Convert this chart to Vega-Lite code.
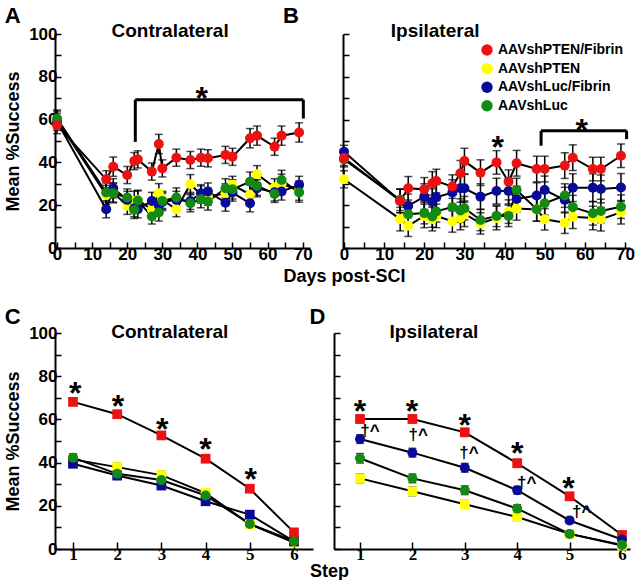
{
"$schema": "https://vega.github.io/schema/vega-lite/v6.json",
"padding": {"left": 4, "top": 4, "right": 5, "bottom": 5},
"config": {
 "view": {"stroke": null},
 "font": "Liberation Sans",
 "axis": {"domainColor": "black", "domainWidth": 2, "tickColor": "black", "tickWidth": 1.5, "tickSize": -6, "labelFont": "Liberation Sans", "labelFontWeight": "bold", "labelFontSize": 17, "labelColor": "black", "titleFont": "Liberation Sans", "titleFontWeight": "bold", "titleFontSize": 18, "titleColor": "black", "grid": false, "labelFlush": false, "labelOverlap": false, "labelPadding": 4},
 "title": {"font": "Liberation Sans", "fontSize": 22, "fontWeight": "bold", "color": "black", "anchor": "start", "frame": "bounds", "offset": -6}
},
"datasets": {
 "series": [
  {"p":"A","g":"AAVshPTEN","x":0,"y":60,"e":4},{"p":"A","g":"AAVshPTEN","x":14,"y":24.8,"e":4.5},{"p":"A","g":"AAVshPTEN","x":16,"y":26,"e":4.5},{"p":"A","g":"AAVshPTEN","x":20,"y":19.7,"e":4},{"p":"A","g":"AAVshPTEN","x":22,"y":22,"e":4.5},{"p":"A","g":"AAVshPTEN","x":23,"y":22.5,"e":4.5},{"p":"A","g":"AAVshPTEN","x":27,"y":18,"e":4},{"p":"A","g":"AAVshPTEN","x":29,"y":25.6,"e":4.5},{"p":"A","g":"AAVshPTEN","x":30,"y":22.5,"e":4},{"p":"A","g":"AAVshPTEN","x":34,"y":18.1,"e":3.5},{"p":"A","g":"AAVshPTEN","x":38,"y":29.8,"e":4.5},{"p":"A","g":"AAVshPTEN","x":41,"y":25,"e":4},{"p":"A","g":"AAVshPTEN","x":43,"y":24,"e":4},{"p":"A","g":"AAVshPTEN","x":48,"y":25.5,"e":4.5},{"p":"A","g":"AAVshPTEN","x":50,"y":29.5,"e":4},{"p":"A","g":"AAVshPTEN","x":55,"y":25,"e":4.5},{"p":"A","g":"AAVshPTEN","x":57,"y":34.5,"e":4},{"p":"A","g":"AAVshPTEN","x":62,"y":28.4,"e":4},{"p":"A","g":"AAVshPTEN","x":64,"y":30,"e":4.5},{"p":"A","g":"AAVshPTEN","x":69,"y":26.8,"e":4.5},
  {"p":"A","g":"AAVshLuc/Fibrin","x":0,"y":59,"e":4},{"p":"A","g":"AAVshLuc/Fibrin","x":14,"y":18.1,"e":4},{"p":"A","g":"AAVshLuc/Fibrin","x":16,"y":27.9,"e":4.5},{"p":"A","g":"AAVshLuc/Fibrin","x":20,"y":22.5,"e":4},{"p":"A","g":"AAVshLuc/Fibrin","x":22,"y":18.6,"e":4},{"p":"A","g":"AAVshLuc/Fibrin","x":23,"y":18.1,"e":4},{"p":"A","g":"AAVshLuc/Fibrin","x":27,"y":22,"e":4},{"p":"A","g":"AAVshLuc/Fibrin","x":29,"y":20,"e":4},{"p":"A","g":"AAVshLuc/Fibrin","x":30,"y":21.5,"e":4},{"p":"A","g":"AAVshLuc/Fibrin","x":34,"y":22.5,"e":4},{"p":"A","g":"AAVshLuc/Fibrin","x":38,"y":22,"e":4},{"p":"A","g":"AAVshLuc/Fibrin","x":41,"y":25.6,"e":4},{"p":"A","g":"AAVshLuc/Fibrin","x":43,"y":26.4,"e":4},{"p":"A","g":"AAVshLuc/Fibrin","x":48,"y":21.2,"e":4},{"p":"A","g":"AAVshLuc/Fibrin","x":50,"y":25.9,"e":4},{"p":"A","g":"AAVshLuc/Fibrin","x":55,"y":20.9,"e":4},{"p":"A","g":"AAVshLuc/Fibrin","x":57,"y":27.9,"e":4},{"p":"A","g":"AAVshLuc/Fibrin","x":62,"y":26,"e":4},{"p":"A","g":"AAVshLuc/Fibrin","x":64,"y":26.4,"e":4},{"p":"A","g":"AAVshLuc/Fibrin","x":69,"y":29.5,"e":4},
  {"p":"A","g":"AAVshLuc","x":0,"y":60.5,"e":4},{"p":"A","g":"AAVshLuc","x":14,"y":25.9,"e":4.5},{"p":"A","g":"AAVshLuc","x":16,"y":25.6,"e":4.5},{"p":"A","g":"AAVshLuc","x":20,"y":23.6,"e":4},{"p":"A","g":"AAVshLuc","x":22,"y":17.8,"e":4},{"p":"A","g":"AAVshLuc","x":23,"y":22.2,"e":4.5},{"p":"A","g":"AAVshLuc","x":27,"y":14.7,"e":3.5},{"p":"A","g":"AAVshLuc","x":29,"y":16.6,"e":4},{"p":"A","g":"AAVshLuc","x":30,"y":22,"e":4},{"p":"A","g":"AAVshLuc","x":34,"y":23.6,"e":4.5},{"p":"A","g":"AAVshLuc","x":38,"y":20.9,"e":4},{"p":"A","g":"AAVshLuc","x":41,"y":22.8,"e":4},{"p":"A","g":"AAVshLuc","x":43,"y":21.7,"e":4},{"p":"A","g":"AAVshLuc","x":48,"y":27.9,"e":4.5},{"p":"A","g":"AAVshLuc","x":50,"y":27.4,"e":4.5},{"p":"A","g":"AAVshLuc","x":55,"y":31,"e":4.5},{"p":"A","g":"AAVshLuc","x":57,"y":29.1,"e":4.5},{"p":"A","g":"AAVshLuc","x":62,"y":25.3,"e":4},{"p":"A","g":"AAVshLuc","x":64,"y":31.8,"e":4.5},{"p":"A","g":"AAVshLuc","x":69,"y":25.9,"e":4.5},
  {"p":"A","g":"AAVshPTEN/Fibrin","x":0,"y":57.4,"e":4},{"p":"A","g":"AAVshPTEN/Fibrin","x":14,"y":32.1,"e":4},{"p":"A","g":"AAVshPTEN/Fibrin","x":16,"y":38,"e":4.5},{"p":"A","g":"AAVshPTEN/Fibrin","x":20,"y":34.1,"e":4},{"p":"A","g":"AAVshPTEN/Fibrin","x":22,"y":40.6,"e":4},{"p":"A","g":"AAVshPTEN/Fibrin","x":23,"y":41.4,"e":4},{"p":"A","g":"AAVshPTEN/Fibrin","x":27,"y":35.7,"e":4},{"p":"A","g":"AAVshPTEN/Fibrin","x":29,"y":48.6,"e":4.5},{"p":"A","g":"AAVshPTEN/Fibrin","x":30,"y":37.2,"e":4},{"p":"A","g":"AAVshPTEN/Fibrin","x":34,"y":42.2,"e":4},{"p":"A","g":"AAVshPTEN/Fibrin","x":38,"y":41.1,"e":4},{"p":"A","g":"AAVshPTEN/Fibrin","x":41,"y":42.2,"e":4},{"p":"A","g":"AAVshPTEN/Fibrin","x":43,"y":41.9,"e":4},{"p":"A","g":"AAVshPTEN/Fibrin","x":48,"y":43.5,"e":4},{"p":"A","g":"AAVshPTEN/Fibrin","x":50,"y":42.6,"e":4},{"p":"A","g":"AAVshPTEN/Fibrin","x":55,"y":51.3,"e":4.5},{"p":"A","g":"AAVshPTEN/Fibrin","x":57,"y":52.5,"e":4.5},{"p":"A","g":"AAVshPTEN/Fibrin","x":62,"y":47.3,"e":4},{"p":"A","g":"AAVshPTEN/Fibrin","x":64,"y":52.5,"e":4.5},{"p":"A","g":"AAVshPTEN/Fibrin","x":69,"y":54,"e":4.5},
  {"p":"B","g":"AAVshPTEN","x":0,"y":32.1,"e":4},{"p":"B","g":"AAVshPTEN","x":14,"y":13.5,"e":5.5},{"p":"B","g":"AAVshPTEN","x":16,"y":10.4,"e":5},{"p":"B","g":"AAVshPTEN","x":20,"y":15,"e":5.5},{"p":"B","g":"AAVshPTEN","x":22,"y":13.5,"e":5.5},{"p":"B","g":"AAVshPTEN","x":23,"y":15,"e":5.5},{"p":"B","g":"AAVshPTEN","x":27,"y":12.4,"e":5},{"p":"B","g":"AAVshPTEN","x":29,"y":14,"e":5.5},{"p":"B","g":"AAVshPTEN","x":30,"y":16,"e":6},{"p":"B","g":"AAVshPTEN","x":34,"y":11.5,"e":5},{"p":"B","g":"AAVshPTEN","x":38,"y":14,"e":5.5},{"p":"B","g":"AAVshPTEN","x":41,"y":17,"e":5.5},{"p":"B","g":"AAVshPTEN","x":43,"y":18.5,"e":5.5},{"p":"B","g":"AAVshPTEN","x":48,"y":18,"e":5.5},{"p":"B","g":"AAVshPTEN","x":50,"y":13.4,"e":5},{"p":"B","g":"AAVshPTEN","x":55,"y":11.8,"e":5},{"p":"B","g":"AAVshPTEN","x":57,"y":14.6,"e":5.5},{"p":"B","g":"AAVshPTEN","x":62,"y":14,"e":5.5},{"p":"B","g":"AAVshPTEN","x":64,"y":13.4,"e":5.5},{"p":"B","g":"AAVshPTEN","x":69,"y":16.7,"e":5.5},
  {"p":"B","g":"AAVshLuc/Fibrin","x":0,"y":45,"e":3},{"p":"B","g":"AAVshLuc/Fibrin","x":14,"y":22,"e":5.5},{"p":"B","g":"AAVshLuc/Fibrin","x":16,"y":19.7,"e":5.5},{"p":"B","g":"AAVshLuc/Fibrin","x":20,"y":24,"e":6},{"p":"B","g":"AAVshLuc/Fibrin","x":22,"y":21.7,"e":6},{"p":"B","g":"AAVshLuc/Fibrin","x":23,"y":23.7,"e":6},{"p":"B","g":"AAVshLuc/Fibrin","x":27,"y":25.9,"e":6},{"p":"B","g":"AAVshLuc/Fibrin","x":29,"y":27.9,"e":6.5},{"p":"B","g":"AAVshLuc/Fibrin","x":30,"y":27.9,"e":6.5},{"p":"B","g":"AAVshLuc/Fibrin","x":34,"y":24,"e":6},{"p":"B","g":"AAVshLuc/Fibrin","x":38,"y":26.6,"e":6},{"p":"B","g":"AAVshLuc/Fibrin","x":41,"y":26.6,"e":6},{"p":"B","g":"AAVshLuc/Fibrin","x":43,"y":22.9,"e":6},{"p":"B","g":"AAVshLuc/Fibrin","x":48,"y":24.5,"e":6},{"p":"B","g":"AAVshLuc/Fibrin","x":50,"y":27.1,"e":6.5},{"p":"B","g":"AAVshLuc/Fibrin","x":55,"y":22.4,"e":6},{"p":"B","g":"AAVshLuc/Fibrin","x":57,"y":28.2,"e":6.5},{"p":"B","g":"AAVshLuc/Fibrin","x":62,"y":28.2,"e":6.5},{"p":"B","g":"AAVshLuc/Fibrin","x":64,"y":27.6,"e":6.5},{"p":"B","g":"AAVshLuc/Fibrin","x":69,"y":28.3,"e":6.5},
  {"p":"B","g":"AAVshLuc","x":0,"y":41.4,"e":3.5},{"p":"B","g":"AAVshLuc","x":14,"y":22.5,"e":5},{"p":"B","g":"AAVshLuc","x":16,"y":15.8,"e":5},{"p":"B","g":"AAVshLuc","x":20,"y":16.3,"e":5},{"p":"B","g":"AAVshLuc","x":22,"y":14.7,"e":5},{"p":"B","g":"AAVshLuc","x":23,"y":17.1,"e":5},{"p":"B","g":"AAVshLuc","x":27,"y":19.1,"e":5.5},{"p":"B","g":"AAVshLuc","x":29,"y":17.5,"e":5.5},{"p":"B","g":"AAVshLuc","x":30,"y":18.6,"e":5.5},{"p":"B","g":"AAVshLuc","x":34,"y":13.1,"e":5},{"p":"B","g":"AAVshLuc","x":38,"y":15,"e":5},{"p":"B","g":"AAVshLuc","x":41,"y":15,"e":5},{"p":"B","g":"AAVshLuc","x":43,"y":27.1,"e":5.5},{"p":"B","g":"AAVshLuc","x":48,"y":18.1,"e":5.5},{"p":"B","g":"AAVshLuc","x":50,"y":20.9,"e":5.5},{"p":"B","g":"AAVshLuc","x":55,"y":24.5,"e":5.5},{"p":"B","g":"AAVshLuc","x":57,"y":19.1,"e":5.5},{"p":"B","g":"AAVshLuc","x":62,"y":16.2,"e":5.5},{"p":"B","g":"AAVshLuc","x":64,"y":17.3,"e":5.5},{"p":"B","g":"AAVshLuc","x":69,"y":19.3,"e":5.5},
  {"p":"B","g":"AAVshPTEN/Fibrin","x":0,"y":42,"e":3.5},{"p":"B","g":"AAVshPTEN/Fibrin","x":14,"y":22,"e":5.5},{"p":"B","g":"AAVshPTEN/Fibrin","x":16,"y":27.9,"e":5.5},{"p":"B","g":"AAVshPTEN/Fibrin","x":20,"y":27.4,"e":5.5},{"p":"B","g":"AAVshPTEN/Fibrin","x":22,"y":30.2,"e":5.5},{"p":"B","g":"AAVshPTEN/Fibrin","x":23,"y":31.3,"e":5.5},{"p":"B","g":"AAVshPTEN/Fibrin","x":27,"y":28.7,"e":5.5},{"p":"B","g":"AAVshPTEN/Fibrin","x":29,"y":34.9,"e":6},{"p":"B","g":"AAVshPTEN/Fibrin","x":30,"y":40.6,"e":6},{"p":"B","g":"AAVshPTEN/Fibrin","x":34,"y":35.2,"e":6},{"p":"B","g":"AAVshPTEN/Fibrin","x":38,"y":40,"e":5.5},{"p":"B","g":"AAVshPTEN/Fibrin","x":41,"y":31,"e":5.5},{"p":"B","g":"AAVshPTEN/Fibrin","x":43,"y":39.6,"e":6},{"p":"B","g":"AAVshPTEN/Fibrin","x":48,"y":36.9,"e":6},{"p":"B","g":"AAVshPTEN/Fibrin","x":50,"y":36.9,"e":6},{"p":"B","g":"AAVshPTEN/Fibrin","x":55,"y":38.5,"e":6},{"p":"B","g":"AAVshPTEN/Fibrin","x":57,"y":42.2,"e":6},{"p":"B","g":"AAVshPTEN/Fibrin","x":62,"y":36.9,"e":5.5},{"p":"B","g":"AAVshPTEN/Fibrin","x":64,"y":36.9,"e":5.5},{"p":"B","g":"AAVshPTEN/Fibrin","x":69,"y":43.1,"e":5.5},
  {"p":"C","g":"AAVshPTEN","x":1,"y":41.5,"e":1.8},{"p":"C","g":"AAVshPTEN","x":2,"y":37.9,"e":1.8},{"p":"C","g":"AAVshPTEN","x":3,"y":34.2,"e":1.8},{"p":"C","g":"AAVshPTEN","x":4,"y":25.9,"e":1.6},{"p":"C","g":"AAVshPTEN","x":5,"y":11.5,"e":1.4},{"p":"C","g":"AAVshPTEN","x":6,"y":3,"e":0.8},
  {"p":"C","g":"AAVshLuc/Fibrin","x":1,"y":39.5,"e":1.8},{"p":"C","g":"AAVshLuc/Fibrin","x":2,"y":34,"e":1.8},{"p":"C","g":"AAVshLuc/Fibrin","x":3,"y":29.4,"e":1.8},{"p":"C","g":"AAVshLuc/Fibrin","x":4,"y":22.1,"e":1.6},{"p":"C","g":"AAVshLuc/Fibrin","x":5,"y":15.9,"e":1.5},{"p":"C","g":"AAVshLuc/Fibrin","x":6,"y":3.5,"e":0.8},
  {"p":"C","g":"AAVshLuc","x":1,"y":42.3,"e":1.8},{"p":"C","g":"AAVshLuc","x":2,"y":34.8,"e":1.8},{"p":"C","g":"AAVshLuc","x":3,"y":31.9,"e":1.8},{"p":"C","g":"AAVshLuc","x":4,"y":24.8,"e":1.6},{"p":"C","g":"AAVshLuc","x":5,"y":11.6,"e":1.4},{"p":"C","g":"AAVshLuc","x":6,"y":3.6,"e":0.8},
  {"p":"C","g":"AAVshPTEN/Fibrin","x":1,"y":68.1,"e":1.6},{"p":"C","g":"AAVshPTEN/Fibrin","x":2,"y":62.4,"e":1.6},{"p":"C","g":"AAVshPTEN/Fibrin","x":3,"y":52.6,"e":1.6},{"p":"C","g":"AAVshPTEN/Fibrin","x":4,"y":41.8,"e":1.6},{"p":"C","g":"AAVshPTEN/Fibrin","x":5,"y":27.9,"e":1.5},{"p":"C","g":"AAVshPTEN/Fibrin","x":6,"y":7.7,"e":0.9},
  {"p":"D","g":"AAVshPTEN","x":1,"y":32.7,"e":2},{"p":"D","g":"AAVshPTEN","x":2,"y":26.7,"e":2},{"p":"D","g":"AAVshPTEN","x":3,"y":20.7,"e":1.8},{"p":"D","g":"AAVshPTEN","x":4,"y":14.8,"e":1.6},{"p":"D","g":"AAVshPTEN","x":5,"y":7,"e":1.2},{"p":"D","g":"AAVshPTEN","x":6,"y":1.6,"e":0.6},
  {"p":"D","g":"AAVshLuc/Fibrin","x":1,"y":50.9,"e":2},{"p":"D","g":"AAVshLuc/Fibrin","x":2,"y":44.6,"e":2},{"p":"D","g":"AAVshLuc/Fibrin","x":3,"y":37.6,"e":2},{"p":"D","g":"AAVshLuc/Fibrin","x":4,"y":27.2,"e":1.8},{"p":"D","g":"AAVshLuc/Fibrin","x":5,"y":13.2,"e":1.4},{"p":"D","g":"AAVshLuc/Fibrin","x":6,"y":4.4,"e":0.8},
  {"p":"D","g":"AAVshLuc","x":1,"y":42,"e":2.2},{"p":"D","g":"AAVshLuc","x":2,"y":32.7,"e":2},{"p":"D","g":"AAVshLuc","x":3,"y":27.2,"e":2},{"p":"D","g":"AAVshLuc","x":4,"y":18.7,"e":1.8},{"p":"D","g":"AAVshLuc","x":5,"y":7,"e":1.2},{"p":"D","g":"AAVshLuc","x":6,"y":1.9,"e":0.6},
  {"p":"D","g":"AAVshPTEN/Fibrin","x":1,"y":60.2,"e":1.8},{"p":"D","g":"AAVshPTEN/Fibrin","x":2,"y":60.2,"e":1.8},{"p":"D","g":"AAVshPTEN/Fibrin","x":3,"y":54,"e":1.8},{"p":"D","g":"AAVshPTEN/Fibrin","x":4,"y":39.7,"e":1.8},{"p":"D","g":"AAVshPTEN/Fibrin","x":5,"y":24.4,"e":1.6},{"p":"D","g":"AAVshPTEN/Fibrin","x":6,"y":6.5,"e":1}
 ],
 "notes": [
  {"p":"A","k":"title","x":32.2,"y":98.6,"label":"Contralateral"},
  {"p":"A","k":"star","x":41.2,"y":72.3,"label":"*"},
  {"p":"B","k":"title","x":22.7,"y":98.6,"label":"Ipsilateral"},
  {"p":"B","k":"star","x":38.3,"y":49.7,"label":"*"},
  {"p":"B","k":"star","x":59.2,"y":57.5,"label":"*"},
  {"p":"C","k":"title","x":3.19,"y":97.5,"label":"Contralateral"},
  {"p":"C","k":"star","x":1.05,"y":74.7,"label":"*"},
  {"p":"C","k":"star","x":2.02,"y":68.5,"label":"*"},
  {"p":"C","k":"star","x":3.02,"y":58,"label":"*"},
  {"p":"C","k":"star","x":4.0,"y":48.5,"label":"*"},
  {"p":"C","k":"star","x":5.02,"y":34.6,"label":"*"},
  {"p":"D","k":"title","x":2.41,"y":97.7,"label":"Ipsilateral"},
  {"p":"D","k":"star","x":1.0,"y":66,"label":"*"},
  {"p":"D","k":"star","x":1.99,"y":66,"label":"*"},
  {"p":"D","k":"star","x":3.0,"y":59.9,"label":"*"},
  {"p":"D","k":"star","x":4.0,"y":46.7,"label":"*"},
  {"p":"D","k":"star","x":4.98,"y":30.4,"label":"*"},
  {"p":"D","k":"dagger","x":1.19,"y":54.7,"label":"†^"},
  {"p":"D","k":"dagger","x":2.11,"y":52.9,"label":"†^"},
  {"p":"D","k":"dagger","x":3.08,"y":44.3,"label":"†^"},
  {"p":"D","k":"dagger","x":4.18,"y":30.4,"label":"†^"},
  {"p":"D","k":"dagger","x":5.23,"y":17.2,"label":"†^"}
 ],
 "brackets": [
  {"p":"A","x":22.3,"x2":70.2,"y":69.3,"y2":69.3},
  {"p":"A","x":22.3,"x2":22.3,"y":49.6,"y2":69.3},
  {"p":"A","x":70.2,"x2":70.2,"y":60.5,"y2":69.3},
  {"p":"B","x":49.1,"x2":70.4,"y":54.8,"y2":54.8},
  {"p":"B","x":49.1,"x2":49.1,"y":47.8,"y2":54.8},
  {"p":"B","x":70.4,"x2":70.4,"y":50.9,"y2":54.8}
 ]
},
"spacing": 20,
"bounds": "full",
"vconcat": [
 {"hconcat": [
  {"width": 255, "height": 214,
   "title": {"text": "A"},
   "encoding": {
    "x": {"field": "x", "type": "quantitative", "scale": {"domain": [-0.6, 72.1], "nice": false, "zero": false}, "axis": {"values": [0,5,10,15,20,25,30,35,40,45,50,55,60,65,70], "labelExpr": "datum.value % 10 == 0 ? datum.label : ''", "title": null}},
    "y": {"field": "y", "type": "quantitative", "scale": {"domain": [0, 100], "nice": false}, "axis": {"values": [0,10,20,30,40,50,60,70,80,90,100], "labelExpr": "datum.value % 20 == 0 ? datum.label : ''", "title": "Mean %Success", "titlePadding": 6}}
   },
   "layer": [
    {"data": {"name": "series"}, "transform": [{"filter": "datum.p == 'A'"}], "mark": {"type": "errorbar", "ticks": true, "size": 8, "thickness": 1.5, "color": "black"}, "encoding": {"yError": {"field": "e"}}},
    {"data": {"name": "series"}, "transform": [{"filter": "datum.p == 'A'"}], "mark": {"type": "line", "color": "black", "strokeWidth": 2}, "encoding": {"detail": {"field": "g"}}},
    {"data": {"name": "series"}, "transform": [{"filter": "datum.p == 'A'"}], "mark": {"type": "point", "filled": true, "size": 100, "opacity": 1, "shape": "circle"},
     "encoding": {"color": {"field": "g", "type": "nominal", "scale": {"domain": ["AAVshPTEN/Fibrin", "AAVshPTEN", "AAVshLuc/Fibrin", "AAVshLuc"], "range": ["#ee1111", "#ffff00", "#0a0a9a", "#138a13"]},
      "legend": {"orient": "none", "legendX": 425, "legendY": 9, "title": null, "labelFontSize": 14, "labelFontWeight": "bold", "labelFont": "Liberation Sans", "labelColor": "black", "symbolType": "circle", "symbolSize": 130, "symbolStrokeWidth": 0, "symbolOpacity": 1, "rowPadding": 4.6, "padding": 0, "labelOffset": 4, "labelLimit": 300, "labelExpr": "datum.label == 'AAVshLuc/Fibrin' ? '\u00a0' + datum.label : datum.label"}}}},
    {"data": {"name": "brackets"}, "transform": [{"filter": "datum.p == 'A'"}], "mark": {"type": "rule", "strokeWidth": 3, "color": "black"}, "encoding": {"x2": {"field": "x2"}, "y2": {"field": "y2"}}},
    {"data": {"name": "notes"}, "transform": [{"filter": "datum.p == 'A' && datum.k == 'star'"}], "mark": {"type": "text", "fontSize": 32, "fontWeight": "bold", "baseline": "middle", "dy": 6, "color": "black"}, "encoding": {"text": {"field": "label"}}},
    {"data": {"name": "notes"}, "transform": [{"filter": "datum.p == 'A' && datum.k == 'title'"}], "mark": {"type": "text", "fontSize": 19, "fontWeight": "bold", "baseline": "alphabetic", "color": "black"}, "encoding": {"text": {"field": "label"}}}
   ]
  },
  {"width": 287, "height": 214,
   "title": {"text": "B"},
   "encoding": {
    "x": {"field": "x", "type": "quantitative", "scale": {"domain": [-0.25, 71.25], "nice": false, "zero": false}, "axis": {"values": [0,5,10,15,20,25,30,35,40,45,50,55,60,65,70], "labelExpr": "datum.value % 10 == 0 ? datum.label : ''", "title": "Days post-SCI", "titleX": 1, "titleY": 33, "titleAlign": "center", "titleBaseline": "alphabetic"}},
    "y": {"field": "y", "type": "quantitative", "scale": {"domain": [0, 100], "nice": false}, "axis": {"values": [0,10,20,30,40,50,60,70,80,90,100], "labels": false, "title": null}}
   },
   "layer": [
    {"data": {"name": "series"}, "transform": [{"filter": "datum.p == 'B'"}], "mark": {"type": "errorbar", "ticks": true, "size": 8, "thickness": 1.5, "color": "black"}, "encoding": {"yError": {"field": "e"}}},
    {"data": {"name": "series"}, "transform": [{"filter": "datum.p == 'B'"}], "mark": {"type": "line", "color": "black", "strokeWidth": 2}, "encoding": {"detail": {"field": "g"}}},
    {"data": {"name": "series"}, "transform": [{"filter": "datum.p == 'B'"}], "mark": {"type": "point", "filled": true, "size": 100, "opacity": 1, "shape": "circle"}, "encoding": {"color": {"field": "g", "type": "nominal"}}},
    {"data": {"name": "brackets"}, "transform": [{"filter": "datum.p == 'B'"}], "mark": {"type": "rule", "strokeWidth": 3, "color": "black"}, "encoding": {"x2": {"field": "x2"}, "y2": {"field": "y2"}}},
    {"data": {"name": "notes"}, "transform": [{"filter": "datum.p == 'B' && datum.k == 'star'"}], "mark": {"type": "text", "fontSize": 32, "fontWeight": "bold", "baseline": "middle", "dy": 6, "color": "black"}, "encoding": {"text": {"field": "label"}}},
    {"data": {"name": "notes"}, "transform": [{"filter": "datum.p == 'B' && datum.k == 'title'"}], "mark": {"type": "text", "fontSize": 19, "fontWeight": "bold", "baseline": "alphabetic", "color": "black"}, "encoding": {"text": {"field": "label"}}}
   ]
  }
 ], "spacing": 33, "bounds": "flush"},
 {"hconcat": [
  {"width": 258, "height": 216,
   "title": {"text": "C"},
   "encoding": {
    "x": {"field": "x", "type": "quantitative", "scale": {"domain": [0.593, 6.43], "nice": false, "zero": false}, "axis": {"values": [1,2,3,4,5,6], "title": null, "labelFont": "Liberation Serif", "labelFontSize": 17, "tickSize": -7}},
    "y": {"field": "y", "type": "quantitative", "scale": {"domain": [0, 100], "nice": false}, "axis": {"values": [0,10,20,30,40,50,60,70,80,90,100], "labelExpr": "datum.value % 20 == 0 ? datum.label : ''", "title": "Mean %Success", "titlePadding": 6}}
   },
   "layer": [
    {"data": {"name": "series"}, "transform": [{"filter": "datum.p == 'C'"}], "mark": {"type": "errorbar", "ticks": true, "size": 8, "thickness": 1.5, "color": "black"}, "encoding": {"yError": {"field": "e"}}},
    {"data": {"name": "series"}, "transform": [{"filter": "datum.p == 'C'"}], "mark": {"type": "line", "color": "black", "strokeWidth": 2}, "encoding": {"detail": {"field": "g"}}},
    {"data": {"name": "series"}, "transform": [{"filter": "datum.p == 'C' && datum.g != 'AAVshLuc'"}], "mark": {"type": "point", "filled": true, "size": 95, "opacity": 1, "shape": "square"}, "encoding": {"color": {"field": "g", "type": "nominal"}}},
    {"data": {"name": "series"}, "transform": [{"filter": "datum.p == 'C' && datum.g == 'AAVshLuc'"}], "mark": {"type": "point", "filled": true, "size": 100, "opacity": 1, "shape": "circle"}, "encoding": {"color": {"field": "g", "type": "nominal"}}},
    {"data": {"name": "notes"}, "transform": [{"filter": "datum.p == 'C' && datum.k == 'star'"}], "mark": {"type": "text", "fontSize": 32, "fontWeight": "bold", "baseline": "middle", "dy": 6, "color": "black"}, "encoding": {"text": {"field": "label"}}},
    {"data": {"name": "notes"}, "transform": [{"filter": "datum.p == 'C' && datum.k == 'title'"}], "mark": {"type": "text", "fontSize": 19, "fontWeight": "bold", "baseline": "alphabetic", "color": "black"}, "encoding": {"text": {"field": "label"}}}
   ]
  },
  {"width": 296, "height": 216,
   "title": {"text": "D"},
   "encoding": {
    "x": {"field": "x", "type": "quantitative", "scale": {"domain": [0.504, 6.153], "nice": false, "zero": false}, "axis": {"values": [1,2,3,4,5,6], "title": "Step", "titleX": -5, "titleY": 27, "titleAlign": "center", "titleBaseline": "alphabetic", "labelFont": "Liberation Serif", "labelFontSize": 17, "tickSize": -7}},
    "y": {"field": "y", "type": "quantitative", "scale": {"domain": [0, 100], "nice": false}, "axis": {"values": [0,10,20,30,40,50,60,70,80,90,100], "labels": false, "title": null}}
   },
   "layer": [
    {"data": {"name": "series"}, "transform": [{"filter": "datum.p == 'D'"}], "mark": {"type": "errorbar", "ticks": true, "size": 8, "thickness": 1.5, "color": "black"}, "encoding": {"yError": {"field": "e"}}},
    {"data": {"name": "series"}, "transform": [{"filter": "datum.p == 'D'"}], "mark": {"type": "line", "color": "black", "strokeWidth": 2}, "encoding": {"detail": {"field": "g"}}},
    {"data": {"name": "series"}, "transform": [{"filter": "datum.p == 'D' && (datum.g == 'AAVshPTEN' || datum.g == 'AAVshPTEN/Fibrin')"}], "mark": {"type": "point", "filled": true, "size": 95, "opacity": 1, "shape": "square"}, "encoding": {"color": {"field": "g", "type": "nominal"}}},
    {"data": {"name": "series"}, "transform": [{"filter": "datum.p == 'D' && (datum.g == 'AAVshLuc' || datum.g == 'AAVshLuc/Fibrin')"}], "mark": {"type": "point", "filled": true, "size": 100, "opacity": 1, "shape": "circle"}, "encoding": {"color": {"field": "g", "type": "nominal"}}},
    {"data": {"name": "notes"}, "transform": [{"filter": "datum.p == 'D' && datum.k == 'star'"}], "mark": {"type": "text", "fontSize": 32, "fontWeight": "bold", "baseline": "middle", "dy": 6, "color": "black"}, "encoding": {"text": {"field": "label"}}},
    {"data": {"name": "notes"}, "transform": [{"filter": "datum.p == 'D' && datum.k == 'dagger'"}], "mark": {"type": "text", "fontSize": 17, "fontWeight": "bold", "baseline": "middle", "color": "black"}, "encoding": {"text": {"field": "label"}}},
    {"data": {"name": "notes"}, "transform": [{"filter": "datum.p == 'D' && datum.k == 'title'"}], "mark": {"type": "text", "fontSize": 19, "fontWeight": "bold", "baseline": "alphabetic", "color": "black"}, "encoding": {"text": {"field": "label"}}}
   ]
  }
 ], "spacing": 21, "bounds": "flush"}
]
}
